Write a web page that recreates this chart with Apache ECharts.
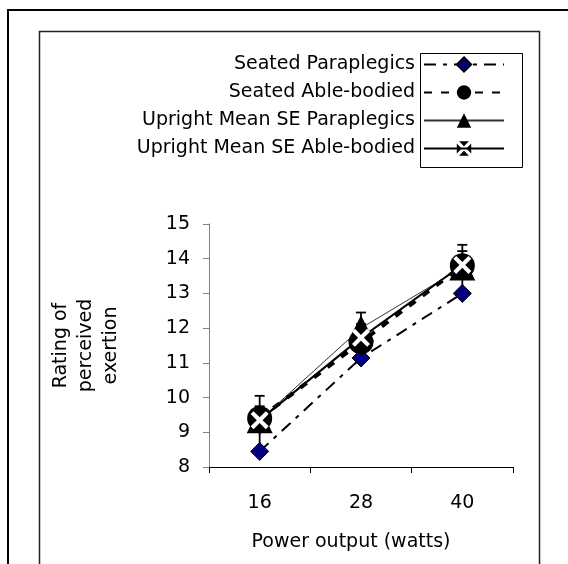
<!DOCTYPE html>
<html>
<head>
<meta charset="utf-8">
<script src="https://cdn.jsdelivr.net/npm/echarts@6/dist/echarts.min.js"></script>
<style>
html,body{margin:0;padding:0;background:#fff;}
#c{width:568px;height:564px;}
</style>
</head>
<body>
<div id="c"></div>
<script>
var categories = ['16', '28', '40'];
var seatedPara = [8.45, 11.14, 13.0];
var seatedAble = [9.4, 11.6, 13.8];
var uprightPara = [9.35, 12.0, 13.75];
var uprightParaSE = [0.7, 0.45, 0.65];
var uprightAble = [9.35, 11.72, 13.82];
var uprightAbleSE = [0.4, 0.4, 0.4];
var yTicks = [8, 9, 10, 11, 12, 13, 14, 15];
var seriesNames = ['Seated Paraplegics', 'Seated Able-bodied', 'Upright Mean SE Paraplegics', 'Upright Mean SE Able-bodied'];

var FONT = 'DejaVu Sans, sans-serif';
var FS = 19;
var xSymbolBlack = 'path://M1.6,0 L8.4,0 L5,3.4 Z M10,1.6 L10,8.4 L6.6,5 Z M8.4,10 L1.6,10 L5,6.6 Z M0,8.4 L0,1.6 L3.4,5 Z';
var xSymbolWhite = 'path://M0,1.6 L1.6,0 L5,3.4 L8.4,0 L10,1.6 L6.6,5 L10,8.4 L8.4,10 L5,6.6 L1.6,10 L0,8.4 L3.4,5 Z';

function errData(vals, se) {
  return vals.map(function (v, i) { return [i, v - se[i], v + se[i]]; });
}
function errRender(params, api) {
  var x = api.value(0);
  var lo = api.coord([x, api.value(1)]);
  var hi = api.coord([x, api.value(2)]);
  var hw = 5;
  var st = { stroke: '#000', lineWidth: 1.8 };
  return {
    type: 'group',
    children: [
      { type: 'line', shape: { x1: hi[0], y1: hi[1], x2: lo[0], y2: lo[1] }, style: st },
      { type: 'line', shape: { x1: hi[0] - hw, y1: hi[1], x2: hi[0] + hw, y2: hi[1] }, style: st }
    ]
  };
}

var chart = echarts.init(document.getElementById('c'), null, { renderer: 'canvas' });
chart.setOption({
  animation: false,
  backgroundColor: '#fff',
  textStyle: { fontFamily: FONT },
  graphic: [
    { type: 'rect', shape: { x: 8, y: 10, width: 580, height: 600 }, style: { fill: null, stroke: '#000', lineWidth: 2 }, z: 100 },
    { type: 'rect', shape: { x: 39.5, y: 31.5, width: 500, height: 600 }, style: { fill: null, stroke: '#222', lineWidth: 1.5 }, z: 100 },
    { type: 'rect', shape: { x: 420.5, y: 53.5, width: 102, height: 114 }, style: { fill: null, stroke: '#000', lineWidth: 1 }, z: 100 }
  ],
  legend: {
    data: seriesNames,
    orient: 'vertical',
    align: 'right',
    right: 58,
    top: 50,
    itemWidth: 80,
    itemHeight: 18,
    itemGap: 9,
    textStyle: { fontFamily: FONT, fontSize: FS, color: '#000', padding: [0, 4, 0, 0] },
    selectedMode: false
  },
  grid: { left: 209, top: 224, right: 55, bottom: 97 },
  xAxis: {
    type: 'category',
    data: categories,
    boundaryGap: true,
    name: 'Power output (watts)',
    nameLocation: 'middle',
    nameGap: 66,
    nameTextStyle: { fontFamily: FONT, fontSize: FS, color: '#000', padding: [0, 20, 0, 0], verticalAlign: 'top' },
    axisLine: { lineStyle: { color: '#000', width: 1 } },
    axisTick: { show: true, inside: false, length: 6, alignWithLabel: false, lineStyle: { color: '#000' } },
    axisLabel: { fontFamily: FONT, fontSize: FS, color: '#000', margin: 27 },
    splitLine: { show: false }
  },
  yAxis: {
    type: 'value',
    min: yTicks[0],
    max: yTicks[yTicks.length - 1],
    interval: 1,
    name: 'Rating of\nperceived\nexertion',
    nameLocation: 'middle',
    nameRotate: 90,
    nameGap: 85,
    nameTextStyle: { fontFamily: FONT, fontSize: FS, color: '#000', lineHeight: 25 },
    axisLine: { show: true, lineStyle: { color: '#808080', width: 1 } },
    axisTick: { show: true, inside: false, length: 6, lineStyle: { color: '#808080' } },
    axisLabel: { fontFamily: FONT, fontSize: FS, color: '#000', margin: 19 },
    splitLine: { show: false }
  },
  series: [
    {
      name: seriesNames[0], type: 'line', data: seatedPara,
      symbol: 'diamond', symbolSize: 18,
      itemStyle: { color: '#000080', borderColor: '#000', borderWidth: 1 },
      lineStyle: { color: '#000', width: 2, type: [12, 7, 4, 7] },
      z: 3
    },
    {
      name: seriesNames[1], type: 'line', data: seatedAble,
      symbol: 'circle', symbolSize: 25,
      itemStyle: { color: '#000' },
      lineStyle: { color: '#000', width: 4, type: [8, 9] },
      z: 3
    },
    {
      name: seriesNames[2], type: 'line', data: uprightPara,
      symbol: 'triangle', symbolSize: 26,
      itemStyle: { color: '#000' },
      lineStyle: { color: '#333', width: 1 },
      z: 4
    },
    {
      name: seriesNames[3], type: 'line', data: uprightAble,
      symbol: xSymbolBlack, symbolSize: 18,
      itemStyle: { color: '#000' },
      lineStyle: { color: '#000', width: 2 },
      z: 5
    },
    {
      name: 'paraErr', type: 'custom', data: errData(uprightPara, uprightParaSE),
      renderItem: errRender, z: 2, silent: true
    },
    {
      name: 'ableErr', type: 'custom', data: errData(uprightAble, uprightAbleSE),
      renderItem: errRender, z: 2, silent: true
    },
    {
      name: 'ableX', type: 'scatter', data: uprightAble,
      symbol: xSymbolWhite, symbolSize: 18,
      itemStyle: { color: '#fff', opacity: 1 },
      z: 6, silent: true
    }
  ]
});
</script>
</body>
</html>
